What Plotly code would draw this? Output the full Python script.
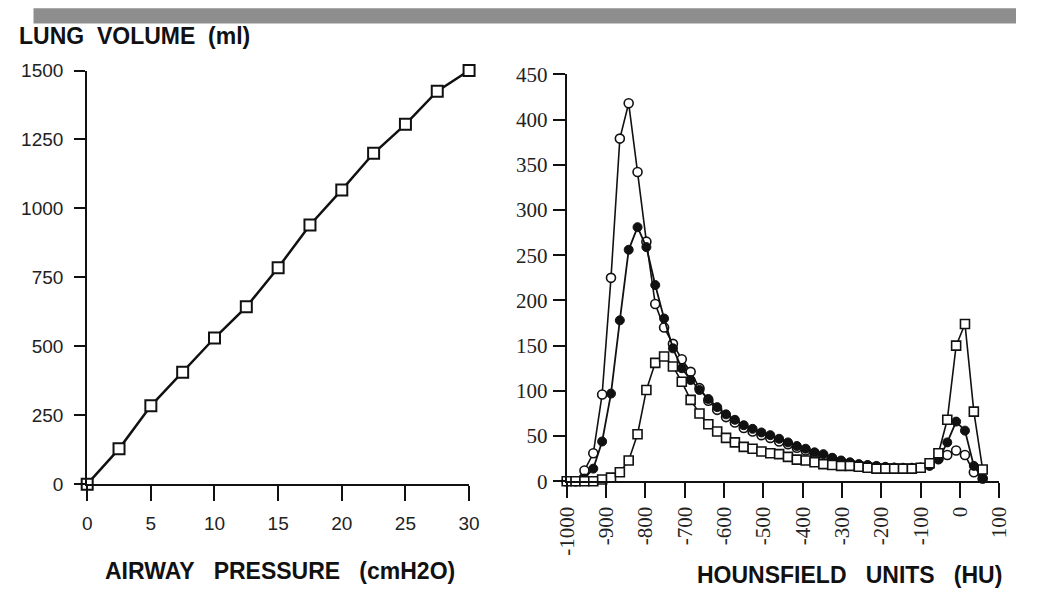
import plotly.graph_objects as go

# ---------------- data ----------------
pressure = [0, 2.5, 5, 7.5, 10, 12.5, 15, 17.5, 20, 22.5, 25, 27.5, 30]
volume = [0, 128, 284, 406, 530, 643, 785, 940, 1067, 1200, 1305, 1425, 1500]

hu = [-1000, -977.5, -955, -932.5, -910, -887.5, -865, -842.5, -820, -797.5,
      -775, -752.5, -730, -707.5, -685, -662.5, -640, -617.5, -595, -572.5,
      -550, -527.5, -505, -482.5, -460, -437.5, -415, -392.5, -370, -347.5,
      -325, -302.5, -280, -257.5, -235, -212.5, -190, -167.5, -145, -122.5,
      -100, -77.5, -55, -32.5, -10, 12.5, 35, 57.5]
open_circles = [0, 0, 12, 31, 96, 225, 379, 418, 342, 265,
                196, 170, 152, 135, 121, 103, 89, 79, 71, 65,
                59, 55, 51, 48, 44, 41, 37, 34, 31, 28,
                25, 22, 20, 18, 17, 16, 15, 15, 14, 14,
                15, 18, 25, 29, 34, 29, 10, 3]
filled_circles = [0, 0, 3, 14, 44, 97, 178, 256, 281, 259,
                  217, 180, 147, 125, 112, 101, 91, 82, 74, 68,
                  62, 58, 54, 51, 47, 43, 39, 36, 32, 30,
                  26, 23, 21, 19, 18, 17, 16, 15, 15, 15,
                  15, 17, 24, 43, 66, 56, 17, 3]
open_squares = [0, 0, 0, 0, 2, 4, 10, 23, 52, 101,
                131, 138, 127, 110, 90, 75, 63, 55, 48, 43,
                38, 36, 33, 31, 30, 27, 24, 23, 21, 19,
                18, 17, 17, 16, 15, 14, 14, 14, 14, 14,
                15, 20, 31, 68, 150, 174, 77, 13]

left_xticks = [0, 5, 10, 15, 20, 25, 30]
left_yticks = [0, 250, 500, 750, 1000, 1250, 1500]
right_xticks = [-1000, -900, -800, -700, -600, -500, -400, -300, -200, -100, 0, 100]
right_xticklabels = ["-1000", "-900", "-800", "-700", "-600", "-500", "-400",
                     "-300", "-200", "-100", "0", "100"]
right_yticks = [0, 50, 100, 150, 200, 250, 300, 350, 400, 450]

NB = "\u00a0"
title_left_y = "LUNG" + NB * 2 + "VOLUME" + NB * 2 + "(ml)"
title_left_x = "AIRWAY" + NB * 3 + "PRESSURE" + NB * 3 + "(cmH2O)"
title_right_x = "HOUNSFIELD" + NB * 3 + "UNITS" + NB * 3 + "(HU)"

# the page body keeps its default 8px margin, so the figure is 16px smaller
OX, OY = 8, 8
W, H = 1044 - 2 * OX, 611 - 2 * OY
INK = "#111111"

fig = go.Figure()

fig.add_trace(go.Scatter(
    x=pressure, y=volume, mode="lines+markers",
    line=dict(color=INK, width=2.5),
    marker=dict(symbol="square", size=11, color="white", line=dict(color=INK, width=2)),
    cliponaxis=False, xaxis="x", yaxis="y", showlegend=False))

fig.add_trace(go.Scatter(
    x=hu, y=open_circles, mode="lines+markers",
    line=dict(color=INK, width=1.6),
    marker=dict(symbol="circle", size=9, color="white", line=dict(color=INK, width=1.6)),
    cliponaxis=False, xaxis="x2", yaxis="y2", showlegend=False))
fig.add_trace(go.Scatter(
    x=hu, y=filled_circles, mode="lines+markers",
    line=dict(color=INK, width=1.8),
    marker=dict(symbol="circle", size=9, color=INK, line=dict(color=INK, width=1)),
    cliponaxis=False, xaxis="x2", yaxis="y2", showlegend=False))
fig.add_trace(go.Scatter(
    x=hu, y=open_squares, mode="lines+markers",
    line=dict(color=INK, width=1.6),
    marker=dict(symbol="square", size=9, color="white", line=dict(color=INK, width=1.6)),
    cliponaxis=False, xaxis="x2", yaxis="y2", showlegend=False))

sans = dict(family="Liberation Sans, Arial, sans-serif", size=19, color="#222222")
serif = dict(family="Liberation Serif, Times New Roman, serif", size=21, color="#222222")
title_font = dict(family="Liberation Sans, Arial, sans-serif", size=23, color=INK)

def px_x(p):
    return (p - OX) / W

def px_y(p):
    return (H - (p - OY)) / H

axis_common = dict(showgrid=False, zeroline=False, showline=True, linecolor=INK,
                   linewidth=2, ticks="outside", tickcolor=INK, tickwidth=2)

fig.update_layout(
    width=W, height=H,
    margin=dict(l=0, r=0, t=0, b=0),
    paper_bgcolor="white", plot_bgcolor="white",
    xaxis=dict(domain=[px_x(85), px_x(476)], range=[0, 30], tickvals=left_xticks,
               ticklen=15, tickfont=sans, ticklabelstandoff=6, anchor="y", **axis_common),
    yaxis=dict(domain=[px_y(500), px_y(69)], range=[0, 1500], tickvals=left_yticks,
               ticklen=11, tickfont=sans, ticklabelstandoff=7, anchor="x", **axis_common),
    xaxis2=dict(domain=[px_x(576), px_x(1019)], range=[-1000, 100], tickvals=right_xticks,
                ticktext=right_xticklabels, tickangle=-90, ticklen=15, tickfont=serif,
                ticklabelstandoff=0, anchor="y2", **axis_common),
    yaxis2=dict(domain=[px_y(497), px_y(73)], range=[0, 450], tickvals=right_yticks,
                ticklen=12, tickfont=serif, ticklabelstandoff=1, anchor="x2", **axis_common),
    shapes=[dict(type="rect", xref="paper", yref="paper",
                 x0=px_x(30), x1=1.0, y0=px_y(20), y1=px_y(4),
                 fillcolor="#8e8e8e", line=dict(width=0), layer="above")],
    annotations=[
        dict(text="<b>" + title_left_y + "</b>", xref="paper", yref="paper",
             x=px_x(13), y=px_y(33), xanchor="left", yanchor="middle", showarrow=False,
             font=title_font),
        dict(text="<b>" + title_left_x + "</b>", xref="paper", yref="paper",
             x=px_x(282), y=px_y(591), xanchor="center", yanchor="middle", showarrow=False,
             font=title_font),
        dict(text="<b>" + title_right_x + "</b>", xref="paper", yref="paper",
             x=px_x(866), y=px_y(595), xanchor="center", yanchor="middle", showarrow=False,
             font=title_font),
    ],
)

fig.write_html("out.html")
